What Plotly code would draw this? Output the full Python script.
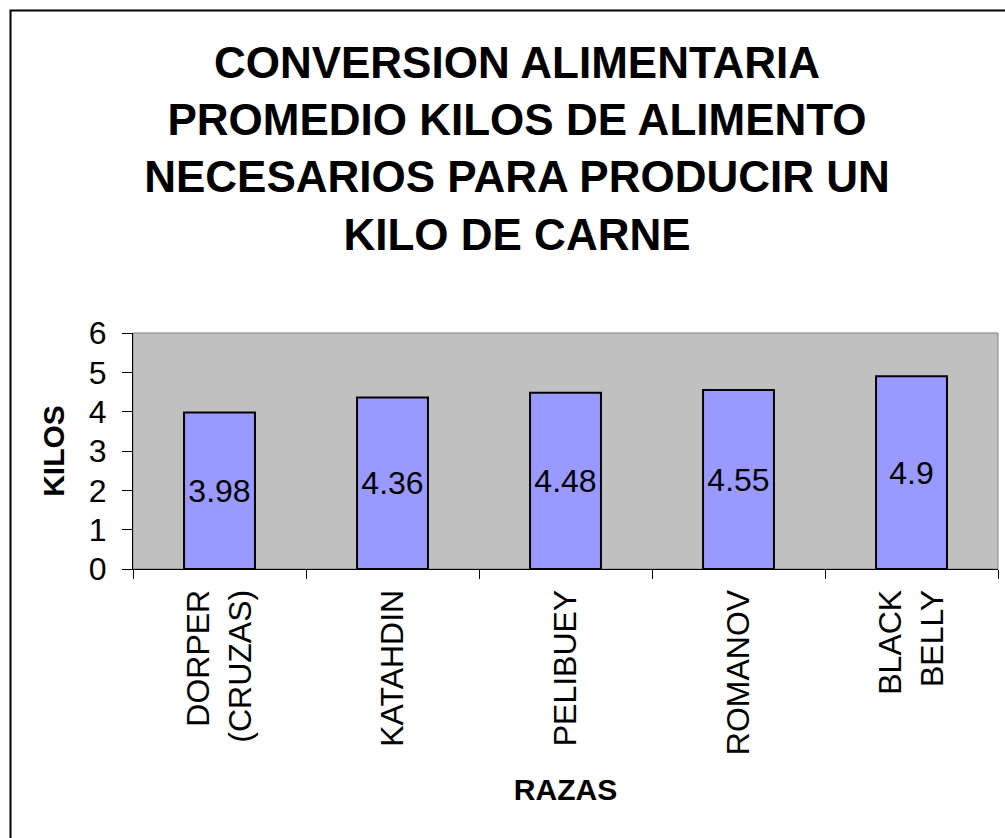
import plotly.graph_objects as go

categories = ["DORPER<br>(CRUZAS)", "KATAHDIN", "PELIBUEY", "ROMANOV", "BLACK<br>BELLY"]
values = [3.98, 4.36, 4.48, 4.55, 4.9]
value_labels = ["3.98", "4.36", "4.48", "4.55", "4.9"]
y_ticks = [0, 1, 2, 3, 4, 5, 6]

W, H = 1005, 838
L, R, T, B = 133, 7, 333, 269
pw, ph = W - L - R, H - T - B

FONT = "Arial, Liberation Sans, sans-serif"

fig = go.Figure(go.Bar(
    x=categories, y=values,
    text=value_labels, textposition="inside", insidetextanchor="middle",
    textangle=0,
    textfont=dict(family=FONT, size=32, color="black"),
    marker=dict(color="#9999FF", line=dict(color="black", width=2)),
))

fig.update_layout(
    width=W, height=H,
    margin=dict(l=L, r=R, t=T, b=B, autoexpand=False),
    paper_bgcolor="white", plot_bgcolor="#C0C0C0",
    bargap=0.59,
    showlegend=False,
    uniformtext=dict(minsize=32, mode="show"),
    title=dict(
        text="CONVERSION ALIMENTARIA<br>PROMEDIO KILOS DE ALIMENTO<br>NECESARIOS PARA PRODUCIR UN<br>KILO DE CARNE",
        font=dict(family=FONT, size=44, color="black", weight="bold"),
        x=517 / W, xref="container", xanchor="center",
        y=1 - 78 / H, yref="container", yanchor="top",
    ),
    font=dict(family=FONT, size=32, color="black"),
)

fig.update_xaxes(
    type="category", tickangle=-90, tickson="boundaries",
    ticks="outside", ticklen=9, tickcolor="black", tickwidth=1,
    showline=True, linecolor="black", linewidth=1,
    showgrid=False, zeroline=False,
    tickfont=dict(family=FONT, size=32, color="black"),
    ticklabelstandoff=7,
    title=dict(text="RAZAS", font=dict(family=FONT, size=30, color="black", weight="bold"), standoff=24),
    automargin=False,
)
fig.update_yaxes(
    range=[0, 6], tickvals=y_ticks,
    ticks="outside", ticklen=10, tickcolor="black", tickwidth=1,
    showline=True, linecolor="black", linewidth=1,
    showgrid=False, zeroline=False,
    tickfont=dict(family=FONT, size=32, color="black"),
    ticklabelstandoff=9,
    title=dict(text="KILOS", font=dict(family=FONT, size=30, color="black", weight="bold"), standoff=15),
    automargin=False,
)

# plot-area border (gray top/right)
fig.add_shape(type="rect", xref="paper", yref="paper", x0=0, x1=1, y0=0, y1=1,
              line=dict(color="#808080", width=1), layer="below")
# outer chart frame (left and top visible)
fig.add_shape(type="rect", xref="paper", yref="paper",
              x0=(10.5 - L) / pw, x1=(W + 50 - L) / pw,
              y0=-(B + 50) / ph, y1=((H - B) - 10.5) / ph,
              line=dict(color="black", width=2), fillcolor="rgba(0,0,0,0)", layer="above")

fig.write_html("out.html", config={"displayModeBar": False},
               post_script="document.body.style.margin='0';document.body.style.overflow='hidden';")
